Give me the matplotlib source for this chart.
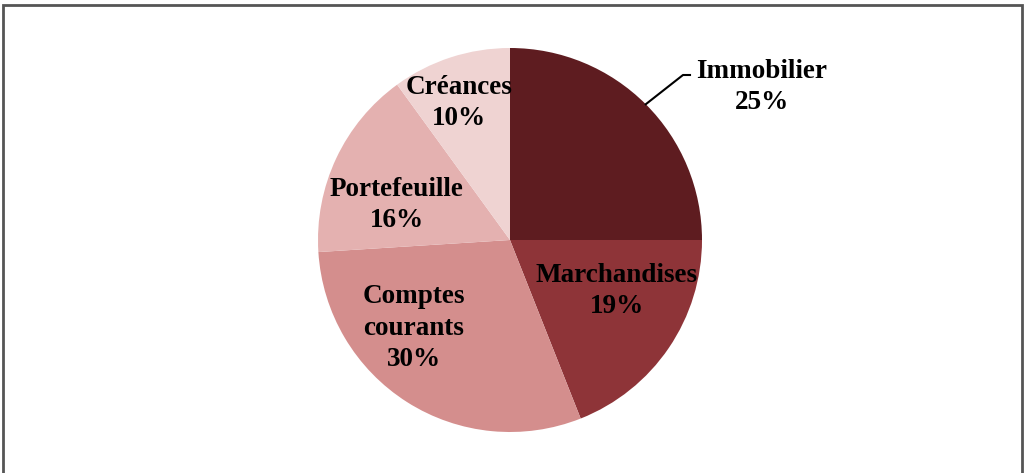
import numpy as np
import matplotlib.pyplot as plt
from matplotlib.patches import Rectangle

categories = ['Immobilier', 'Marchandises', 'Comptes\ncourants', 'Portefeuille', 'Créances']
values = [25, 19, 30, 16, 10]
colors = ['#5e1c20', '#8e3438', '#d48e8d', '#e4b1b0', '#efd3d2']

# label centres in pixel coords (y down), layout only
label_pos = [(762, 87), (617, 291), (414, 328), (397, 205), (459, 103)]

plt.rcParams['font.family'] = ['Liberation Serif', 'DejaVu Serif']

fig = plt.figure(figsize=(10.25, 4.73), dpi=100)
ax = fig.add_axes([0, 0, 1, 1])

cx, cy, r = 510, 240, 192
# y axis is inverted, so counterclock=True draws clockwise on screen
wedges, _ = ax.pie(values, colors=colors, startangle=-90, counterclock=True,
                   center=(cx, cy), radius=r, frame=True,
                   wedgeprops=dict(linewidth=0))
ax.set_xlim(0, 1025)
ax.set_ylim(473, 0)
ax.set_aspect('equal')
ax.axis('off')

for cat, v, (lx, ly) in zip(categories, values, label_pos):
    ax.text(lx, ly, f'{cat}\n{v}%', ha='center', va='center', fontsize=19.5,
            fontweight='bold', linespacing=1.32, color='black')

# leader line for Immobilier
w = wedges[0]
mid = np.deg2rad((w.theta1 + w.theta2) / 2)
px, py = cx + r * np.cos(mid), cy + r * np.sin(mid)
ax.plot([px, 683, 690], [py, 75, 75], color='black', lw=1.5)

fig.patches.append(Rectangle((3 / 1025, -0.1), 1019 / 1025, 1.1 - 5 / 473,
                             transform=fig.transFigure, fill=False,
                             edgecolor='#555555', lw=2))

fig.savefig('out.png', dpi=100)
